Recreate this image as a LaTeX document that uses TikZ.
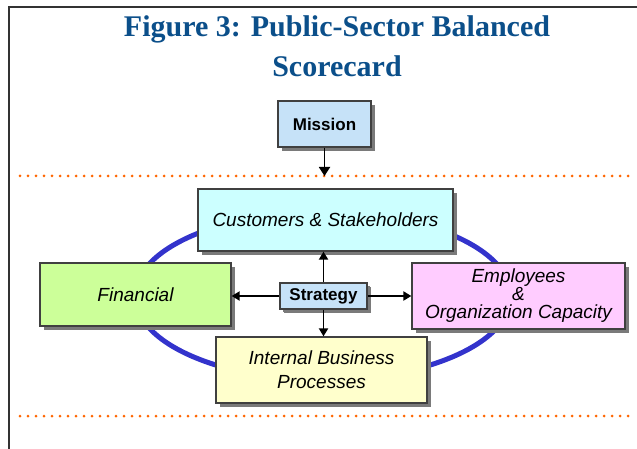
\documentclass[tikz,border=0pt]{standalone}
\usepackage{fontspec}
\setmainfont{Liberation Serif}
\newfontfamily\arialf{Liberation Sans}
\usetikzlibrary{arrows.meta,shadows}
\definecolor{titleblue}{HTML}{0B4F8A}
\definecolor{ringblue}{HTML}{3333CC}
\definecolor{dotorange}{HTML}{FF6600}
\definecolor{boxline}{HTML}{404040}
\definecolor{shadowgray}{HTML}{7A7A7A}
\definecolor{fillmission}{HTML}{C6E2F8}
\definecolor{fillcust}{HTML}{CCFFFF}
\definecolor{fillfin}{HTML}{CCFF99}
\definecolor{fillemp}{HTML}{FFCCFF}
\definecolor{fillint}{HTML}{FFFFCC}
\begin{document}
\begin{tikzpicture}[x=1pt,y=-1pt,
  cardbox/.style={draw=boxline, line width=1.2pt, inner sep=0pt, align=center,
    drop shadow={shadow xshift=4pt, shadow yshift=-4pt, fill=shadowgray, opacity=1}},
  italtext/.style={font=\arialf\itshape\fontsize{19}{18}\selectfont},
  boldtext/.style={font=\arialf\bfseries\fontsize{17}{20}\selectfont},
  titletext/.style={font=\bfseries\fontsize{30}{37}\selectfont, text=titleblue},
  dotline/.style={dotorange, line width=3pt, line cap=round, dash pattern=on 0pt off 8pt},
  arr/.style={line width=1.8pt, -{Triangle[width=9pt,length=8pt]}}
]
\useasboundingbox (0,0) rectangle (637,449);
\fill[white] (0,0) rectangle (637,449);
% frame
\draw[line width=1.6pt, color=black!80] (637,7) -- (9,7) -- (9,449);
% title
\node[titletext] (t1) at (337,29) {Figure 3: Public-Sector Balanced};
\node[titletext] (t2) at (337,66) {Scorecard};
% dotted lines
\draw[dotline] (20,176) -- (632,176);
\draw[dotline] (20,416) -- (632,416);
% ring
\draw[ringblue, line width=5pt] (323,296) ellipse [x radius=188, y radius=84];
% boxes
\node[cardbox, boldtext, fill=fillmission, minimum width=93pt, minimum height=46pt] (mission) at (324.5,124) {Mission};
\coordinate (mtip) at (324.5,176);
\node[cardbox, italtext, fill=fillcust, minimum width=255pt, minimum height=62pt] (cust) at (325.5,220) {Customers \& Stakeholders};
\node[cardbox, italtext, fill=fillfin, minimum width=191pt, minimum height=63pt] (fin) at (135.5,294.5) {Financial};
\node[cardbox, italtext, fill=fillemp, minimum width=213pt, minimum height=66pt] (emp) at (518.5,296) {Employees\\\&\\Organization Capacity};
\node[cardbox, italtext, fill=fillint, minimum width=211pt, minimum height=66pt, font=\arialf\itshape\fontsize{19}{24}\selectfont] (int) at (321.5,370) {Internal Business\\Processes};
\node[cardbox, boldtext, fill=fillmission, minimum width=87pt, minimum height=26pt,
  drop shadow={shadow xshift=3pt, shadow yshift=-3pt, fill=shadowgray, opacity=1}] (strat) at (323.5,296) {Strategy};
% arrows
\draw[line width=1.8pt, -{Triangle[width=11pt,length=9pt]}] (mission.south) -- (mtip);
\draw[arr] (strat.north) -- (strat.north |- cust.south);
\draw[arr] (strat.south) -- (strat.south |- int.north);
\draw[arr] (strat.west) -- (strat.west -| fin.east);
\draw[arr] (strat.east) -- (strat.east -| emp.west);
\end{tikzpicture}
\end{document}
